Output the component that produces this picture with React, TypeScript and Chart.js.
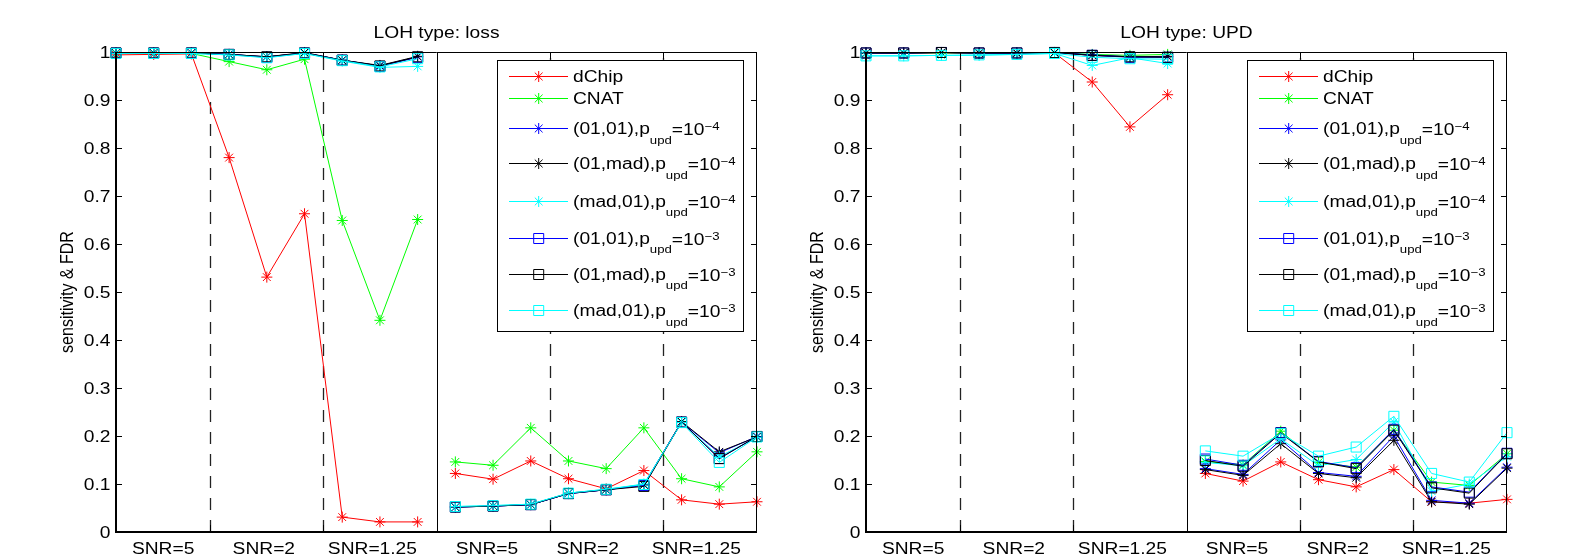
import React, { useEffect, useRef } from "react";
import { Chart, registerables } from "chart.js";
Chart.register(...registerables);

// ---------- data ----------
const xIndex = [0, 1, 2, 3, 4, 5, 6, 7, 8, 9, 10, 11, 12, 13, 14, 15, 16, 17];
const xLabels = ["SNR=5", "SNR=2", "SNR=1.25", "SNR=5", "SNR=2", "SNR=1.25"];
const xLabelPos = [1.25, 3.92, 6.8, 9.84, 12.51, 15.39];
const dashedPos = [2.5, 5.5, 11.5, 14.5];
const solidPos = [8.5];
const yTicks = [0, 0.1, 0.2, 0.3, 0.4, 0.5, 0.6, 0.7, 0.8, 0.9, 1];
const yTickLabels = ["0", "0.1", "0.2", "0.3", "0.4", "0.5", "0.6", "0.7", "0.8", "0.9", "1"];

const seriesNames = ["dChip", "CNAT", "(01,01)", "(01,mad)", "(mad,01)", "(01,01)", "(01,mad)", "(mad,01)"];
const seriesExp = ["", "", "−4", "−4", "−4", "−3", "−3", "−3"];
const seriesColors = ["#ff0000", "#00ff00", "#0000ff", "#000000", "#00ffff", "#0000ff", "#000000", "#00ffff"];
const seriesMarkers = ["star", "star", "star", "star", "star", "rect", "rect", "rect"];

// LOH type: loss
const dChipLoss = [0.994, 0.995, 0.996, 0.780, 0.531, 0.663, 0.031, 0.021, 0.021, 0.122, 0.110, 0.148, 0.111, 0.090, 0.128, 0.067, 0.058, 0.063];
const cnatLoss = [0.997, 0.997, 0.997, 0.980, 0.963, 0.985, 0.649, 0.441, 0.651, 0.146, 0.139, 0.217, 0.148, 0.132, 0.217, 0.111, 0.094, 0.167];
const m0101p4Loss = [0.998, 0.998, 0.998, 0.995, 0.990, 0.998, 0.983, 0.971, 0.990, 0.052, 0.054, 0.057, 0.080, 0.088, 0.099, 0.229, 0.165, 0.199];
const m01madp4Loss = [0.998, 0.998, 0.998, 0.995, 0.990, 0.999, 0.983, 0.972, 0.991, 0.052, 0.054, 0.057, 0.081, 0.088, 0.098, 0.230, 0.167, 0.198];
const mmad01p4Loss = [0.997, 0.997, 0.997, 0.994, 0.989, 0.997, 0.981, 0.968, 0.970, 0.053, 0.055, 0.058, 0.081, 0.089, 0.100, 0.228, 0.157, 0.197];
const m0101p3Loss = [0.998, 0.998, 0.998, 0.995, 0.989, 0.998, 0.983, 0.970, 0.989, 0.052, 0.054, 0.057, 0.080, 0.088, 0.097, 0.229, 0.153, 0.199];
const m01madp3Loss = [0.998, 0.998, 0.998, 0.995, 0.990, 0.998, 0.983, 0.971, 0.990, 0.052, 0.054, 0.057, 0.080, 0.088, 0.095, 0.229, 0.153, 0.199];
const mmad01p3Loss = [0.997, 0.997, 0.997, 0.994, 0.988, 0.997, 0.982, 0.969, 0.986, 0.053, 0.055, 0.058, 0.081, 0.089, 0.099, 0.228, 0.145, 0.198];

// LOH type: UPD
const dChipUpd = [0.997, 0.997, 0.998, 0.997, 0.997, 0.998, 0.9375, 0.844, 0.911, 0.122, 0.106, 0.146, 0.109, 0.094, 0.130, 0.063, 0.060, 0.068];
const cnatUpd = [0.998, 0.998, 0.998, 0.998, 0.998, 0.999, 0.995, 0.993, 0.995, 0.147, 0.140, 0.210, 0.145, 0.135, 0.212, 0.104, 0.097, 0.163];
const m0101p4Upd = [0.998, 0.998, 0.999, 0.998, 0.998, 0.999, 0.994, 0.990, 0.990, 0.132, 0.120, 0.192, 0.124, 0.116, 0.200, 0.066, 0.060, 0.135];
const m01madp4Upd = [0.998, 0.998, 0.999, 0.998, 0.998, 0.999, 0.993, 0.990, 0.991, 0.130, 0.118, 0.184, 0.122, 0.113, 0.191, 0.063, 0.058, 0.133];
const mmad01p4Upd = [0.992, 0.992, 0.993, 0.993, 0.995, 0.997, 0.972, 0.988, 0.976, 0.145, 0.138, 0.194, 0.138, 0.151, 0.229, 0.085, 0.100, 0.157];
const m0101p3Upd = [0.998, 0.998, 0.999, 0.998, 0.998, 0.999, 0.993, 0.989, 0.989, 0.152, 0.139, 0.207, 0.147, 0.134, 0.214, 0.094, 0.083, 0.164];
const m01madp3Upd = [0.998, 0.998, 0.999, 0.998, 0.998, 0.999, 0.993, 0.990, 0.989, 0.149, 0.137, 0.206, 0.146, 0.132, 0.212, 0.092, 0.081, 0.163];
const mmad01p3Upd = [0.992, 0.992, 0.993, 0.994, 0.995, 0.997, 0.989, 0.986, 0.985, 0.169, 0.158, 0.205, 0.158, 0.177, 0.241, 0.122, 0.104, 0.207];

const lossSeries = [dChipLoss, cnatLoss, m0101p4Loss, m01madp4Loss, mmad01p4Loss, m0101p3Loss, m01madp3Loss, mmad01p3Loss];
const updSeries = [dChipUpd, cnatUpd, m0101p4Upd, m01madp4Upd, mmad01p4Upd, m0101p3Upd, m01madp3Upd, mmad01p3Upd];

// ---------- drawing helpers ----------
const FONT = "'Liberation Sans', Arial, Helvetica, sans-serif";
const SX = 1.2;

function txt(ctx: CanvasRenderingContext2D, s: string, x: number, y: number, size: number, align = "left", sx = SX) {
  ctx.save();
  ctx.font = `${size}px ${FONT}`;
  const w = ctx.measureText(s).width * sx;
  let lx = x;
  if (align === "center") lx = x - w / 2;
  else if (align === "right") lx = x - w;
  ctx.translate(lx, y);
  ctx.scale(sx, 1);
  ctx.textAlign = "left";
  ctx.textBaseline = "alphabetic";
  ctx.fillStyle = "#000";
  ctx.fillText(s, 0, 0);
  ctx.restore();
  return w;
}

function marker(ctx: CanvasRenderingContext2D, kind: string, x: number, y: number, color: string) {
  ctx.save();
  ctx.strokeStyle = color;
  ctx.lineWidth = 1;
  ctx.beginPath();
  if (kind === "star") {
    const r = 5.5;
    const d = r * Math.SQRT1_2;
    ctx.moveTo(x - r, y); ctx.lineTo(x + r, y);
    ctx.moveTo(x, y - r); ctx.lineTo(x, y + r);
    ctx.moveTo(x - d, y - d); ctx.lineTo(x + d, y + d);
    ctx.moveTo(x - d, y + d); ctx.lineTo(x + d, y - d);
  } else {
    const h = 5;
    ctx.rect(x - h, y - h, 2 * h, 2 * h);
  }
  ctx.stroke();
  ctx.restore();
}

// build points, with a break between the two LOH halves (sensitivity | FDR)
function toPoints(vals: number[]) {
  const pts: { x: number; y: number | null }[] = [];
  vals.forEach((v, j) => {
    if (j > 0 && solidPos.some((s) => xIndex[j - 1] < s && xIndex[j] > s)) {
      pts.push({ x: (xIndex[j - 1] + xIndex[j]) / 2, y: null });
    }
    pts.push({ x: xIndex[j], y: v });
  });
  return pts;
}

function makePlugin(title: string) {
  return {
    id: "matlabPanel",
    beforeDatasetsDraw(chart: any) {
      const { ctx, chartArea: a, scales } = chart;
      const xs = scales.x;
      ctx.save();
      ctx.strokeStyle = "#222";
      ctx.lineWidth = 1.3;
      ctx.setLineDash([12, 10]);
      for (const p of dashedPos) {
        const px = Math.round(xs.getPixelForValue(p)) + 0.5;
        ctx.beginPath();
        ctx.moveTo(px, a.bottom);
        ctx.lineTo(px, a.top);
        ctx.stroke();
      }
      ctx.setLineDash([]);
      ctx.strokeStyle = "#000";
      ctx.lineWidth = 1;
      for (const p of solidPos) {
        const px = Math.round(xs.getPixelForValue(p)) + 0.5;
        ctx.beginPath();
        ctx.moveTo(px, a.bottom);
        ctx.lineTo(px, a.top);
        ctx.stroke();
      }
      ctx.restore();
    },
    afterDraw(chart: any) {
      const { ctx, chartArea: a, scales } = chart;
      const xs = scales.x;
      const ys = scales.y;
      ctx.save();
      // frame
      ctx.strokeStyle = "#000";
      ctx.lineWidth = 1;
      ctx.beginPath();
      ctx.moveTo(a.left, a.top + 0.5); ctx.lineTo(a.right, a.top + 0.5);
      ctx.moveTo(a.right - 0.5, a.top); ctx.lineTo(a.right - 0.5, a.bottom);
      ctx.stroke();
      ctx.lineWidth = 2;
      ctx.beginPath();
      ctx.moveTo(a.left, a.top); ctx.lineTo(a.left, a.bottom + 1);
      ctx.moveTo(a.left - 1, a.bottom); ctx.lineTo(a.right, a.bottom);
      ctx.stroke();
      // ticks
      ctx.lineWidth = 1;
      ctx.beginPath();
      yTicks.forEach((v) => {
        const py = Math.round(ys.getPixelForValue(v)) + 0.5;
        ctx.moveTo(a.left, py); ctx.lineTo(a.left + 6, py);
        ctx.moveTo(a.right, py); ctx.lineTo(a.right - 6, py);
      });
      [...dashedPos, ...solidPos].forEach((v) => {
        const px = Math.round(xs.getPixelForValue(v)) + 0.5;
        ctx.moveTo(px, a.top); ctx.lineTo(px, a.top + 7);
        ctx.moveTo(px, a.bottom); ctx.lineTo(px, a.bottom - 7);
      });
      ctx.stroke();
      // tick labels
      yTicks.forEach((v, i) => {
        txt(ctx, yTickLabels[i], a.left - 5.5, ys.getPixelForValue(v) + 5.8, 16, "right");
      });
      xLabelPos.forEach((p, i) => {
        txt(ctx, xLabels[i], xs.getPixelForValue(p), 554, 16, "center");
      });
      // title
      txt(ctx, title, (a.left + a.right) / 2, 37.7, 17, "center", 1.13);
      // y label
      ctx.save();
      ctx.translate(a.left - 43.3, (a.top + a.bottom) / 2);
      ctx.rotate(-Math.PI / 2);
      ctx.scale(1, 1.2);
      ctx.font = `16px ${FONT}`;
      ctx.textAlign = "center";
      ctx.textBaseline = "alphabetic";
      ctx.fillStyle = "#000";
      ctx.fillText("sensitivity & FDR", 0, 0);
      ctx.restore();
      // legend
      const bw = 246.3;
      const bh = 271;
      const bx = a.right - 14 - bw;
      const by = a.top + 8;
      ctx.fillStyle = "#fff";
      ctx.fillRect(bx, by, bw, bh);
      ctx.strokeStyle = "#000";
      ctx.lineWidth = 1;
      ctx.strokeRect(Math.round(bx) + 0.5, Math.round(by) + 0.5, Math.round(bw), Math.round(bh));
      const rows = [15.7, 38.3, 68.3, 103.3, 140.7, 177.7, 214, 250.3];
      seriesNames.forEach((name, i) => {
        const ry = by + rows[i];
        const ly = Math.round(ry) + 0.5;
        ctx.strokeStyle = seriesColors[i];
        ctx.lineWidth = 1;
        ctx.beginPath();
        ctx.moveTo(bx + 12.3, ly);
        ctx.lineTo(bx + 71.3, ly);
        ctx.stroke();
        marker(ctx, seriesMarkers[i], bx + 42, ly, seriesColors[i]);
        const base = ry + 5.8;
        let tx = bx + 76.3;
        if (!seriesExp[i]) {
          txt(ctx, name, tx, base, 16);
        } else {
          tx += txt(ctx, name + ",p", tx, base, 16);
          tx += txt(ctx, "upd", tx, base + 9.5, 11);
          tx += txt(ctx, "=10", tx, base + 1, 16);
          txt(ctx, seriesExp[i], tx, base - 4, 11);
        }
      });
      ctx.restore();
    },
  };
}

function Panel(props: { left: number; width: number; padLeft: number; padRight: number; title: string; series: number[][] }) {
  const ref = useRef<HTMLCanvasElement | null>(null);
  useEffect(() => {
    const canvas = ref.current;
    if (!canvas) return;
    const chart = new Chart(canvas, {
      type: "line",
      data: {
        datasets: props.series.map((vals, i) => ({
          label: seriesNames[i],
          data: toPoints(vals),
          borderColor: seriesColors[i],
          backgroundColor: seriesColors[i],
          borderWidth: 1,
          pointStyle: seriesMarkers[i] as any,
          pointRadius: seriesMarkers[i] === "rect" ? 7.1 : 5.5,
          pointBorderColor: seriesColors[i],
          pointBackgroundColor: "rgba(0,0,0,0)",
          pointBorderWidth: 1,
          tension: 0,
          spanGaps: false,
          clip: false as any,
          order: 8 - i,
        })),
      },
      options: {
        animation: false,
        responsive: false,
        maintainAspectRatio: false,
        events: [],
        layout: { padding: { top: 52, right: props.padRight, left: 0, bottom: 0 } },
        plugins: { legend: { display: false }, title: { display: false }, tooltip: { enabled: false } },
        scales: {
          x: {
            type: "linear",
            min: 0,
            max: 17,
            ticks: { display: false },
            grid: { display: false },
            border: { display: false },
            afterFit: (s: any) => { s.height = 24; },
          },
          y: {
            type: "linear",
            min: 0,
            max: 1,
            ticks: { display: false },
            grid: { display: false },
            border: { display: false },
            afterFit: (s: any) => { s.width = props.padLeft; },
          },
        },
      } as any,
      plugins: [makePlugin(props.title)],
    });
    return () => chart.destroy();
  }, []);
  return (
    <canvas
      ref={ref}
      width={props.width}
      height={556}
      style={{ position: "absolute", left: props.left, top: 0, width: props.width, height: 556 }}
    />
  );
}

export default function App() {
  return (
    <div style={{ position: "absolute", left: 0, top: 0, width: 1571, height: 556, background: "#fff", overflow: "hidden" }}>
      <Panel left={0} width={785} padLeft={116} padRight={28} title="LOH type: loss" series={lossSeries} />
      <Panel left={785} width={786} padLeft={81} padRight={64} title="LOH type: UPD" series={updSeries} />
    </div>
  );
}
